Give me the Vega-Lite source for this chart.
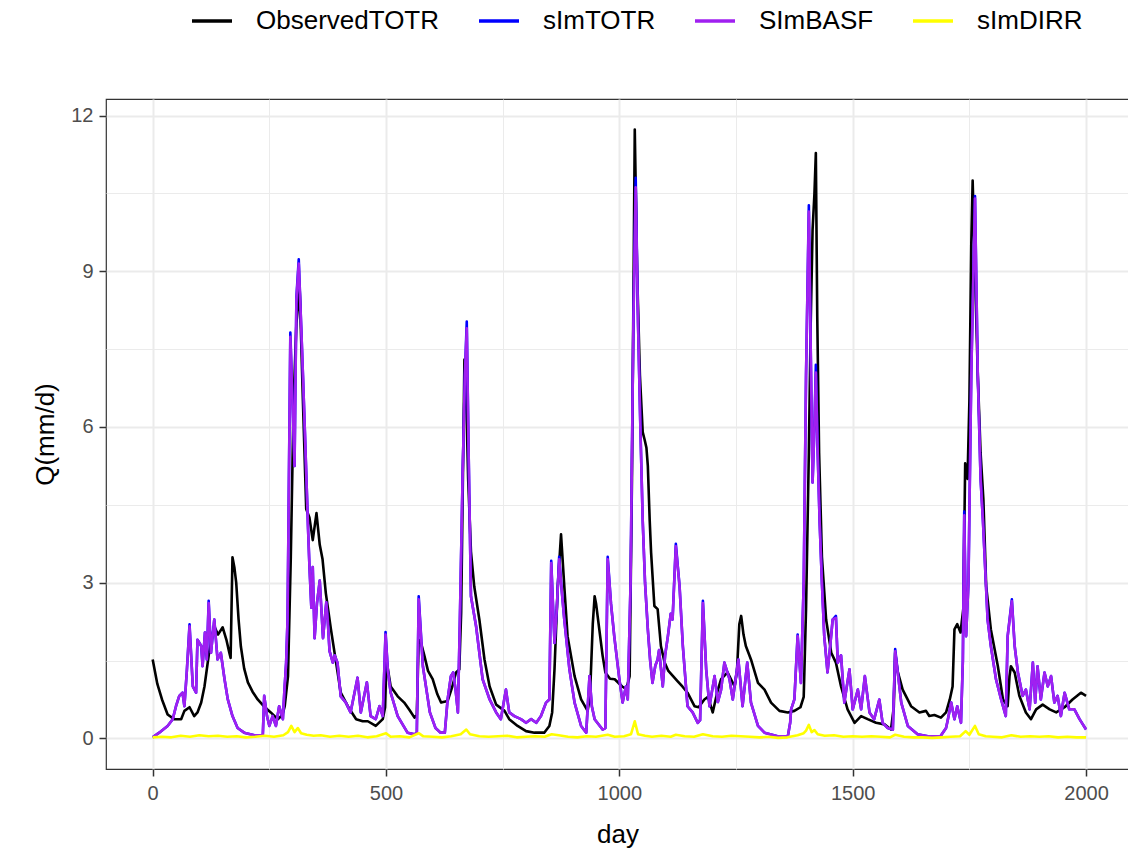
{
  "$schema": "https://vega.github.io/schema/vega-lite/v6.json",
  "width": 1023,
  "height": 670,
  "autosize": {"type": "none"},
  "padding": {"left": 106, "top": 99, "right": 0, "bottom": 88},
  "background": "white",
  "config": {
    "font": "Liberation Sans",
    "view": {"stroke": "#333333", "strokeWidth": 1.2}
  },
  "datasets": {
    "obs": [
      {"d":0,"q":1.52},{"d":10,"q":1.05},{"d":20,"q":0.75},{"d":32,"q":0.46},{"d":46,"q":0.37},{"d":61,"q":0.37},{"d":68,"q":0.53},{"d":79,"q":0.6},{"d":89,"q":0.43},{"d":96,"q":0.5},{"d":104,"q":0.69},{"d":111,"q":1.0},{"d":121,"q":1.66},{"d":132,"q":2.16},{"d":140,"q":2.0},{"d":150,"q":2.14},{"d":158,"q":1.9},{"d":164,"q":1.66},{"d":167,"q":1.55},{"d":171,"q":3.49},{"d":175,"q":3.3},{"d":179,"q":3.0},{"d":184,"q":2.3},{"d":189,"q":1.77},{"d":196,"q":1.35},{"d":204,"q":1.08},{"d":214,"q":0.9},{"d":225,"q":0.75},{"d":238,"q":0.62},{"d":253,"q":0.5},{"d":268,"q":0.37},{"d":278,"q":0.45},{"d":283,"q":0.62},{"d":290,"q":1.2},{"d":296,"q":3.5},{"d":302,"q":6.5},{"d":308,"q":8.0},{"d":315,"q":8.65},{"d":322,"q":6.48},{"d":329,"q":4.42},{"d":336,"q":4.25},{"d":343,"q":3.82},{"d":351,"q":4.34},{"d":358,"q":3.73},{"d":364,"q":3.45},{"d":371,"q":2.8},{"d":382,"q":2.1},{"d":393,"q":1.46},{"d":403,"q":0.88},{"d":418,"q":0.62},{"d":436,"q":0.37},{"d":450,"q":0.33},{"d":461,"q":0.33},{"d":478,"q":0.24},{"d":493,"q":0.37},{"d":498,"q":0.6},{"d":501,"q":1.5},{"d":510,"q":1.0},{"d":525,"q":0.81},{"d":539,"q":0.69},{"d":550,"q":0.55},{"d":561,"q":0.4},{"d":566,"q":0.45},{"d":570,"q":1.9},{"d":575,"q":1.84},{"d":582,"q":1.6},{"d":590,"q":1.3},{"d":600,"q":1.14},{"d":610,"q":0.85},{"d":618,"q":0.69},{"d":632,"q":0.72},{"d":642,"q":1.0},{"d":650,"q":1.27},{"d":657,"q":1.33},{"d":661,"q":2.42},{"d":664,"q":4.5},{"d":668,"q":7.3},{"d":672,"q":6.5},{"d":676,"q":5.0},{"d":682,"q":3.6},{"d":689,"q":2.93},{"d":700,"q":2.29},{"d":711,"q":1.52},{"d":722,"q":1.0},{"d":736,"q":0.65},{"d":754,"q":0.53},{"d":764,"q":0.37},{"d":782,"q":0.24},{"d":800,"q":0.14},{"d":818,"q":0.11},{"d":839,"q":0.11},{"d":850,"q":0.24},{"d":856,"q":0.5},{"d":861,"q":1.33},{"d":868,"q":2.93},{"d":875,"q":3.93},{"d":882,"q":2.93},{"d":889,"q":1.97},{"d":904,"q":1.2},{"d":918,"q":0.75},{"d":932,"q":0.53},{"d":937,"q":0.8},{"d":943,"q":2.2},{"d":947,"q":2.74},{"d":950,"q":2.6},{"d":957,"q":2.1},{"d":964,"q":1.6},{"d":970,"q":1.27},{"d":980,"q":1.15},{"d":990,"q":1.14},{"d":1006,"q":1.0},{"d":1015,"q":0.95},{"d":1022,"q":1.2},{"d":1027,"q":5.0},{"d":1033,"q":11.73},{"d":1038,"q":9.0},{"d":1044,"q":7.0},{"d":1050,"q":5.9},{"d":1054,"q":5.76},{"d":1058,"q":5.6},{"d":1061,"q":5.25},{"d":1065,"q":4.2},{"d":1068,"q":3.58},{"d":1075,"q":2.55},{"d":1082,"q":2.49},{"d":1089,"q":1.78},{"d":1097,"q":1.46},{"d":1105,"q":1.3},{"d":1115,"q":1.2},{"d":1125,"q":1.1},{"d":1135,"q":1.0},{"d":1146,"q":0.88},{"d":1161,"q":0.62},{"d":1170,"q":0.6},{"d":1182,"q":0.75},{"d":1190,"q":0.8},{"d":1200,"q":0.5},{"d":1210,"q":0.9},{"d":1218,"q":1.14},{"d":1232,"q":1.27},{"d":1247,"q":1.0},{"d":1252,"q":1.3},{"d":1257,"q":2.2},{"d":1261,"q":2.36},{"d":1266,"q":2.0},{"d":1271,"q":1.78},{"d":1282,"q":1.52},{"d":1297,"q":1.07},{"d":1311,"q":0.94},{"d":1325,"q":0.69},{"d":1343,"q":0.53},{"d":1361,"q":0.5},{"d":1375,"q":0.53},{"d":1388,"q":0.6},{"d":1395,"q":0.8},{"d":1400,"q":2.5},{"d":1406,"q":5.5},{"d":1410,"q":8.0},{"d":1414,"q":9.8},{"d":1418,"q":10.5},{"d":1421,"q":11.28},{"d":1424,"q":8.14},{"d":1428,"q":5.5},{"d":1434,"q":3.5},{"d":1443,"q":2.29},{"d":1454,"q":1.65},{"d":1464,"q":1.46},{"d":1475,"q":1.0},{"d":1489,"q":0.56},{"d":1504,"q":0.3},{"d":1518,"q":0.43},{"d":1532,"q":0.37},{"d":1550,"q":0.3},{"d":1568,"q":0.27},{"d":1582,"q":0.17},{"d":1588,"q":0.6},{"d":1591,"q":1.65},{"d":1596,"q":1.3},{"d":1607,"q":0.94},{"d":1625,"q":0.62},{"d":1643,"q":0.5},{"d":1657,"q":0.53},{"d":1664,"q":0.43},{"d":1675,"q":0.45},{"d":1689,"q":0.4},{"d":1700,"q":0.5},{"d":1708,"q":0.75},{"d":1714,"q":1.0},{"d":1718,"q":2.1},{"d":1724,"q":2.2},{"d":1731,"q":2.04},{"d":1737,"q":2.5},{"d":1741,"q":5.3},{"d":1746,"q":5.0},{"d":1750,"q":6.5},{"d":1754,"q":9.5},{"d":1757,"q":10.75},{"d":1762,"q":9.0},{"d":1768,"q":7.0},{"d":1774,"q":5.5},{"d":1780,"q":4.6},{"d":1786,"q":2.93},{"d":1796,"q":2.1},{"d":1811,"q":1.39},{"d":1822,"q":0.75},{"d":1832,"q":0.62},{"d":1836,"q":1.2},{"d":1839,"q":1.39},{"d":1847,"q":1.27},{"d":1857,"q":0.82},{"d":1871,"q":0.5},{"d":1882,"q":0.37},{"d":1893,"q":0.56},{"d":1907,"q":0.65},{"d":1922,"q":0.56},{"d":1936,"q":0.5},{"d":1954,"q":0.6},{"d":1971,"q":0.75},{"d":1989,"q":0.88},{"d":2000,"q":0.82}
    ],
    "tot": [
      {"d":0,"q":0.02},{"d":14,"q":0.11},{"d":32,"q":0.24},{"d":43,"q":0.37},{"d":50,"q":0.62},{"d":57,"q":0.82},{"d":64,"q":0.88},{"d":68,"q":0.62},{"d":73,"q":1.27},{"d":79,"q":2.2},{"d":86,"q":1.0},{"d":93,"q":0.88},{"d":96,"q":1.9},{"d":104,"q":1.78},{"d":107,"q":1.39},{"d":112,"q":2.04},{"d":116,"q":1.52},{"d":120,"q":2.65},{"d":125,"q":1.65},{"d":132,"q":2.29},{"d":139,"q":1.52},{"d":146,"q":1.65},{"d":154,"q":1.14},{"d":161,"q":0.75},{"d":171,"q":0.43},{"d":182,"q":0.2},{"d":196,"q":0.11},{"d":218,"q":0.06},{"d":236,"q":0.06},{"d":239,"q":0.82},{"d":245,"q":0.43},{"d":250,"q":0.24},{"d":257,"q":0.43},{"d":264,"q":0.24},{"d":271,"q":0.62},{"d":279,"q":0.37},{"d":282,"q":0.88},{"d":286,"q":1.46},{"d":289,"q":2.29},{"d":295,"q":7.82},{"d":304,"q":5.25},{"d":308,"q":8.5},{"d":313,"q":9.23},{"d":318,"q":8.0},{"d":322,"q":7.0},{"d":326,"q":5.95},{"d":333,"q":4.03},{"d":336,"q":3.3},{"d":340,"q":2.52},{"d":343,"q":3.3},{"d":347,"q":1.93},{"d":352,"q":2.6},{"d":358,"q":3.04},{"d":365,"q":1.93},{"d":372,"q":2.62},{"d":375,"q":2.29},{"d":379,"q":1.68},{"d":386,"q":1.46},{"d":390,"q":1.6},{"d":396,"q":1.46},{"d":403,"q":0.81},{"d":414,"q":0.69},{"d":424,"q":0.5},{"d":439,"q":1.17},{"d":446,"q":0.5},{"d":459,"q":1.08},{"d":467,"q":0.43},{"d":478,"q":0.37},{"d":486,"q":0.62},{"d":493,"q":0.43},{"d":499,"q":2.05},{"d":504,"q":1.3},{"d":510,"q":0.88},{"d":525,"q":0.43},{"d":546,"q":0.11},{"d":561,"q":0.08},{"d":566,"q":0.1},{"d":570,"q":2.74},{"d":579,"q":1.39},{"d":594,"q":0.5},{"d":606,"q":0.2},{"d":617,"q":0.11},{"d":626,"q":0.11},{"d":632,"q":0.75},{"d":639,"q":1.2},{"d":644,"q":1.27},{"d":649,"q":0.94},{"d":654,"q":0.5},{"d":658,"q":2.16},{"d":664,"q":5.0},{"d":669,"q":7.0},{"d":673,"q":8.03},{"d":677,"q":5.5},{"d":682,"q":2.74},{"d":693,"q":2.16},{"d":707,"q":1.14},{"d":722,"q":0.75},{"d":736,"q":0.5},{"d":746,"q":0.37},{"d":757,"q":0.94},{"d":764,"q":0.5},{"d":775,"q":0.43},{"d":789,"q":0.37},{"d":800,"q":0.3},{"d":811,"q":0.37},{"d":822,"q":0.3},{"d":832,"q":0.43},{"d":843,"q":0.69},{"d":850,"q":0.75},{"d":854,"q":3.42},{"d":861,"q":1.84},{"d":866,"q":2.5},{"d":871,"q":3.5},{"d":876,"q":2.9},{"d":882,"q":2.29},{"d":893,"q":1.33},{"d":904,"q":0.69},{"d":918,"q":0.24},{"d":929,"q":0.11},{"d":936,"q":1.2},{"d":941,"q":0.62},{"d":947,"q":0.37},{"d":964,"q":0.17},{"d":970,"q":0.2},{"d":975,"q":3.5},{"d":982,"q":2.6},{"d":989,"q":1.97},{"d":1000,"q":1.14},{"d":1007,"q":0.69},{"d":1014,"q":1.0},{"d":1018,"q":0.75},{"d":1024,"q":3.0},{"d":1030,"q":8.0},{"d":1035,"q":10.8},{"d":1040,"q":8.0},{"d":1045,"q":6.0},{"d":1050,"q":4.2},{"d":1055,"q":3.0},{"d":1061,"q":2.1},{"d":1066,"q":1.5},{"d":1071,"q":1.07},{"d":1077,"q":1.4},{"d":1082,"q":1.52},{"d":1085,"q":1.7},{"d":1093,"q":1.0},{"d":1098,"q":1.6},{"d":1104,"q":1.97},{"d":1110,"q":2.4},{"d":1114,"q":2.29},{"d":1121,"q":3.75},{"d":1129,"q":2.93},{"d":1136,"q":1.78},{"d":1146,"q":0.62},{"d":1157,"q":0.5},{"d":1168,"q":0.3},{"d":1173,"q":0.35},{"d":1179,"q":2.65},{"d":1186,"q":1.33},{"d":1193,"q":0.62},{"d":1204,"q":1.2},{"d":1211,"q":0.7},{"d":1218,"q":0.94},{"d":1225,"q":1.46},{"d":1236,"q":1.14},{"d":1243,"q":0.75},{"d":1255,"q":1.52},{"d":1264,"q":0.62},{"d":1274,"q":1.46},{"d":1282,"q":0.69},{"d":1297,"q":0.24},{"d":1311,"q":0.11},{"d":1339,"q":0.04},{"d":1361,"q":0.04},{"d":1366,"q":0.3},{"d":1368,"q":0.56},{"d":1375,"q":0.75},{"d":1382,"q":2.0},{"d":1389,"q":1.07},{"d":1395,"q":3.0},{"d":1400,"q":7.0},{"d":1406,"q":10.27},{"d":1410,"q":7.5},{"d":1414,"q":4.93},{"d":1418,"q":6.0},{"d":1421,"q":7.2},{"d":1425,"q":5.5},{"d":1429,"q":4.2},{"d":1434,"q":3.0},{"d":1439,"q":1.97},{"d":1446,"q":1.27},{"d":1452,"q":1.8},{"d":1457,"q":2.29},{"d":1464,"q":2.36},{"d":1468,"q":1.46},{"d":1475,"q":1.6},{"d":1482,"q":0.69},{"d":1493,"q":1.33},{"d":1500,"q":0.56},{"d":1511,"q":0.94},{"d":1518,"q":0.56},{"d":1526,"q":1.2},{"d":1536,"q":0.5},{"d":1546,"q":0.37},{"d":1557,"q":0.75},{"d":1564,"q":0.3},{"d":1575,"q":0.2},{"d":1586,"q":0.17},{"d":1591,"q":1.72},{"d":1604,"q":0.69},{"d":1618,"q":0.24},{"d":1639,"q":0.08},{"d":1661,"q":0.04},{"d":1688,"q":0.04},{"d":1700,"q":0.2},{"d":1704,"q":0.37},{"d":1711,"q":0.69},{"d":1718,"q":0.37},{"d":1724,"q":0.62},{"d":1732,"q":0.3},{"d":1736,"q":1.5},{"d":1739,"q":4.37},{"d":1743,"q":1.97},{"d":1748,"q":3.0},{"d":1754,"q":7.0},{"d":1762,"q":10.45},{"d":1768,"q":7.0},{"d":1774,"q":5.0},{"d":1779,"q":4.2},{"d":1789,"q":2.29},{"d":1796,"q":1.78},{"d":1807,"q":1.14},{"d":1818,"q":0.75},{"d":1828,"q":0.43},{"d":1832,"q":1.97},{"d":1841,"q":2.68},{"d":1847,"q":1.78},{"d":1854,"q":1.27},{"d":1864,"q":0.82},{"d":1871,"q":0.94},{"d":1879,"q":0.56},{"d":1886,"q":1.46},{"d":1891,"q":0.69},{"d":1896,"q":1.39},{"d":1903,"q":0.75},{"d":1911,"q":1.27},{"d":1918,"q":1.0},{"d":1925,"q":1.2},{"d":1932,"q":0.69},{"d":1939,"q":0.82},{"d":1946,"q":0.43},{"d":1954,"q":0.88},{"d":1964,"q":0.56},{"d":1975,"q":0.56},{"d":1986,"q":0.37},{"d":2000,"q":0.17}
    ],
    "basf": [
      {"d":0,"q":0.02},{"d":14,"q":0.11},{"d":32,"q":0.24},{"d":43,"q":0.37},{"d":50,"q":0.62},{"d":57,"q":0.82},{"d":64,"q":0.88},{"d":68,"q":0.62},{"d":73,"q":1.27},{"d":79,"q":2.16},{"d":86,"q":1.0},{"d":93,"q":0.88},{"d":96,"q":1.9},{"d":104,"q":1.78},{"d":107,"q":1.39},{"d":112,"q":2.04},{"d":116,"q":1.52},{"d":120,"q":2.61},{"d":125,"q":1.65},{"d":132,"q":2.29},{"d":139,"q":1.52},{"d":146,"q":1.65},{"d":154,"q":1.14},{"d":161,"q":0.75},{"d":171,"q":0.43},{"d":182,"q":0.2},{"d":196,"q":0.11},{"d":218,"q":0.06},{"d":236,"q":0.06},{"d":239,"q":0.82},{"d":245,"q":0.43},{"d":250,"q":0.24},{"d":257,"q":0.43},{"d":264,"q":0.24},{"d":271,"q":0.62},{"d":279,"q":0.37},{"d":282,"q":0.88},{"d":286,"q":1.46},{"d":289,"q":2.29},{"d":295,"q":7.74},{"d":304,"q":5.25},{"d":308,"q":8.46},{"d":313,"q":9.15},{"d":318,"q":8.0},{"d":322,"q":7.0},{"d":326,"q":5.95},{"d":333,"q":4.03},{"d":336,"q":3.3},{"d":340,"q":2.52},{"d":343,"q":3.3},{"d":347,"q":1.93},{"d":352,"q":2.6},{"d":358,"q":3.04},{"d":365,"q":1.93},{"d":372,"q":2.62},{"d":375,"q":2.29},{"d":379,"q":1.68},{"d":386,"q":1.46},{"d":390,"q":1.6},{"d":396,"q":1.46},{"d":403,"q":0.81},{"d":414,"q":0.69},{"d":424,"q":0.5},{"d":439,"q":1.17},{"d":446,"q":0.5},{"d":459,"q":1.08},{"d":467,"q":0.43},{"d":478,"q":0.37},{"d":486,"q":0.62},{"d":493,"q":0.43},{"d":499,"q":2.0},{"d":504,"q":1.3},{"d":510,"q":0.88},{"d":525,"q":0.43},{"d":546,"q":0.11},{"d":561,"q":0.08},{"d":566,"q":0.1},{"d":570,"q":2.68},{"d":579,"q":1.39},{"d":594,"q":0.5},{"d":606,"q":0.2},{"d":617,"q":0.11},{"d":626,"q":0.11},{"d":632,"q":0.75},{"d":639,"q":1.2},{"d":644,"q":1.27},{"d":649,"q":0.94},{"d":654,"q":0.5},{"d":658,"q":2.16},{"d":664,"q":5.0},{"d":669,"q":7.0},{"d":673,"q":7.9},{"d":677,"q":5.5},{"d":682,"q":2.74},{"d":693,"q":2.16},{"d":707,"q":1.14},{"d":722,"q":0.75},{"d":736,"q":0.5},{"d":746,"q":0.37},{"d":757,"q":0.94},{"d":764,"q":0.5},{"d":775,"q":0.43},{"d":789,"q":0.37},{"d":800,"q":0.3},{"d":811,"q":0.37},{"d":822,"q":0.3},{"d":832,"q":0.43},{"d":843,"q":0.69},{"d":850,"q":0.75},{"d":854,"q":3.38},{"d":861,"q":1.84},{"d":866,"q":2.5},{"d":871,"q":3.45},{"d":876,"q":2.9},{"d":882,"q":2.29},{"d":893,"q":1.33},{"d":904,"q":0.69},{"d":918,"q":0.24},{"d":929,"q":0.11},{"d":936,"q":1.2},{"d":941,"q":0.62},{"d":947,"q":0.37},{"d":964,"q":0.17},{"d":970,"q":0.2},{"d":975,"q":3.45},{"d":982,"q":2.6},{"d":989,"q":1.97},{"d":1000,"q":1.14},{"d":1007,"q":0.69},{"d":1014,"q":1.0},{"d":1018,"q":0.75},{"d":1024,"q":3.0},{"d":1030,"q":8.0},{"d":1035,"q":10.62},{"d":1040,"q":8.0},{"d":1045,"q":6.0},{"d":1050,"q":4.2},{"d":1055,"q":3.0},{"d":1061,"q":2.1},{"d":1066,"q":1.5},{"d":1071,"q":1.07},{"d":1077,"q":1.4},{"d":1082,"q":1.52},{"d":1085,"q":1.7},{"d":1093,"q":1.0},{"d":1098,"q":1.6},{"d":1104,"q":1.97},{"d":1110,"q":2.4},{"d":1114,"q":2.29},{"d":1121,"q":3.7},{"d":1129,"q":2.93},{"d":1136,"q":1.78},{"d":1146,"q":0.62},{"d":1157,"q":0.5},{"d":1168,"q":0.3},{"d":1173,"q":0.35},{"d":1179,"q":2.61},{"d":1186,"q":1.33},{"d":1193,"q":0.62},{"d":1204,"q":1.2},{"d":1211,"q":0.7},{"d":1218,"q":0.94},{"d":1225,"q":1.46},{"d":1236,"q":1.14},{"d":1243,"q":0.75},{"d":1255,"q":1.52},{"d":1264,"q":0.62},{"d":1274,"q":1.46},{"d":1282,"q":0.69},{"d":1297,"q":0.24},{"d":1311,"q":0.11},{"d":1339,"q":0.04},{"d":1361,"q":0.04},{"d":1366,"q":0.3},{"d":1368,"q":0.56},{"d":1375,"q":0.75},{"d":1382,"q":1.97},{"d":1389,"q":1.07},{"d":1395,"q":3.0},{"d":1400,"q":7.0},{"d":1406,"q":10.15},{"d":1410,"q":7.5},{"d":1414,"q":4.93},{"d":1418,"q":6.0},{"d":1421,"q":7.05},{"d":1425,"q":5.5},{"d":1429,"q":4.2},{"d":1434,"q":3.0},{"d":1439,"q":1.97},{"d":1446,"q":1.27},{"d":1452,"q":1.8},{"d":1457,"q":2.29},{"d":1464,"q":2.32},{"d":1468,"q":1.46},{"d":1475,"q":1.6},{"d":1482,"q":0.69},{"d":1493,"q":1.33},{"d":1500,"q":0.56},{"d":1511,"q":0.94},{"d":1518,"q":0.56},{"d":1526,"q":1.2},{"d":1536,"q":0.5},{"d":1546,"q":0.37},{"d":1557,"q":0.75},{"d":1564,"q":0.3},{"d":1575,"q":0.2},{"d":1586,"q":0.17},{"d":1591,"q":1.68},{"d":1604,"q":0.69},{"d":1618,"q":0.24},{"d":1639,"q":0.08},{"d":1661,"q":0.04},{"d":1688,"q":0.04},{"d":1700,"q":0.2},{"d":1704,"q":0.37},{"d":1711,"q":0.69},{"d":1718,"q":0.37},{"d":1724,"q":0.62},{"d":1732,"q":0.3},{"d":1736,"q":1.5},{"d":1739,"q":4.3},{"d":1743,"q":1.97},{"d":1748,"q":3.0},{"d":1754,"q":7.0},{"d":1762,"q":10.4},{"d":1768,"q":7.0},{"d":1774,"q":5.0},{"d":1779,"q":4.2},{"d":1789,"q":2.29},{"d":1796,"q":1.78},{"d":1807,"q":1.14},{"d":1818,"q":0.75},{"d":1828,"q":0.43},{"d":1832,"q":1.97},{"d":1841,"q":2.64},{"d":1847,"q":1.78},{"d":1854,"q":1.27},{"d":1864,"q":0.82},{"d":1871,"q":0.94},{"d":1879,"q":0.56},{"d":1886,"q":1.46},{"d":1891,"q":0.69},{"d":1896,"q":1.39},{"d":1903,"q":0.75},{"d":1911,"q":1.27},{"d":1918,"q":1.0},{"d":1925,"q":1.2},{"d":1932,"q":0.69},{"d":1939,"q":0.82},{"d":1946,"q":0.43},{"d":1954,"q":0.88},{"d":1964,"q":0.56},{"d":1975,"q":0.56},{"d":1986,"q":0.37},{"d":2000,"q":0.17}
    ],
    "dirr": [
      {"d":0,"q":0.02},{"d":20,"q":0.03},{"d":40,"q":0.02},{"d":60,"q":0.05},{"d":80,"q":0.03},{"d":100,"q":0.06},{"d":120,"q":0.04},{"d":140,"q":0.05},{"d":160,"q":0.03},{"d":180,"q":0.04},{"d":200,"q":0.02},{"d":220,"q":0.03},{"d":240,"q":0.05},{"d":260,"q":0.03},{"d":280,"q":0.06},{"d":290,"q":0.12},{"d":297,"q":0.24},{"d":304,"q":0.12},{"d":311,"q":0.2},{"d":318,"q":0.1},{"d":330,"q":0.07},{"d":345,"q":0.05},{"d":360,"q":0.06},{"d":380,"q":0.03},{"d":400,"q":0.05},{"d":420,"q":0.03},{"d":440,"q":0.05},{"d":460,"q":0.02},{"d":480,"q":0.04},{"d":500,"q":0.1},{"d":510,"q":0.03},{"d":530,"q":0.04},{"d":550,"q":0.02},{"d":570,"q":0.1},{"d":580,"q":0.04},{"d":600,"q":0.03},{"d":620,"q":0.02},{"d":640,"q":0.04},{"d":660,"q":0.08},{"d":672,"q":0.17},{"d":680,"q":0.08},{"d":700,"q":0.04},{"d":720,"q":0.03},{"d":740,"q":0.04},{"d":760,"q":0.05},{"d":780,"q":0.02},{"d":800,"q":0.03},{"d":820,"q":0.04},{"d":840,"q":0.03},{"d":855,"q":0.08},{"d":870,"q":0.06},{"d":890,"q":0.03},{"d":910,"q":0.02},{"d":930,"q":0.04},{"d":950,"q":0.03},{"d":975,"q":0.07},{"d":990,"q":0.03},{"d":1010,"q":0.04},{"d":1025,"q":0.08},{"d":1033,"q":0.33},{"d":1040,"q":0.08},{"d":1055,"q":0.05},{"d":1070,"q":0.03},{"d":1090,"q":0.05},{"d":1110,"q":0.03},{"d":1121,"q":0.07},{"d":1140,"q":0.04},{"d":1160,"q":0.03},{"d":1179,"q":0.08},{"d":1200,"q":0.04},{"d":1220,"q":0.03},{"d":1240,"q":0.05},{"d":1260,"q":0.04},{"d":1280,"q":0.03},{"d":1300,"q":0.02},{"d":1320,"q":0.03},{"d":1340,"q":0.01},{"d":1360,"q":0.02},{"d":1382,"q":0.06},{"d":1395,"q":0.1},{"d":1400,"q":0.15},{"d":1406,"q":0.26},{"d":1412,"q":0.12},{"d":1418,"q":0.16},{"d":1425,"q":0.08},{"d":1440,"q":0.05},{"d":1460,"q":0.06},{"d":1480,"q":0.03},{"d":1500,"q":0.04},{"d":1520,"q":0.03},{"d":1540,"q":0.04},{"d":1560,"q":0.03},{"d":1580,"q":0.02},{"d":1591,"q":0.07},{"d":1610,"q":0.03},{"d":1630,"q":0.02},{"d":1650,"q":0.02},{"d":1670,"q":0.01},{"d":1690,"q":0.02},{"d":1710,"q":0.03},{"d":1730,"q":0.04},{"d":1742,"q":0.14},{"d":1750,"q":0.07},{"d":1762,"q":0.24},{"d":1770,"q":0.08},{"d":1785,"q":0.04},{"d":1800,"q":0.03},{"d":1820,"q":0.02},{"d":1840,"q":0.06},{"d":1860,"q":0.03},{"d":1880,"q":0.04},{"d":1900,"q":0.03},{"d":1920,"q":0.04},{"d":1940,"q":0.02},{"d":1960,"q":0.03},{"d":1980,"q":0.02},{"d":2000,"q":0.02}
    ]
  },
  "encoding": {
    "x": {
      "field": "d",
      "type": "quantitative",
      "scale": {"domain": [-100, 2092], "nice": false, "zero": false},
      "axis": {
        "title": "day",
        "values": [0, 250, 500, 750, 1000, 1250, 1500, 1750, 2000],
        "format": "d",
        "labelExpr": "datum.value % 500 === 0 ? datum.label : ''",
        "domain": false,
        "grid": true,
        "gridColor": "#EBEBEB",
        "gridWidth": {"condition": {"test": "datum.value % 500 !== 0", "value": 1}, "value": 2},
        "tickOpacity": {"condition": {"test": "datum.value % 500 !== 0", "value": 0}, "value": 1},
        "tickColor": "#333333",
        "tickWidth": 1.5,
        "tickSize": 7,
        "labelFontSize": 20,
        "labelColor": "#4D4D4D",
        "labelPadding": 7,
        "titleFontSize": 26,
        "titleFontWeight": "normal",
        "titleColor": "#000000",
        "titlePadding": 18
      }
    },
    "y": {
      "field": "q",
      "type": "quantitative",
      "scale": {"domain": [-0.59, 12.32], "nice": false, "zero": false},
      "axis": {
        "title": "Q(mm/d)",
        "values": [0, 1.5, 3, 4.5, 6, 7.5, 9, 10.5, 12],
        "labelExpr": "datum.value % 3 === 0 ? datum.label : ''",
        "domain": false,
        "grid": true,
        "gridColor": "#EBEBEB",
        "gridWidth": {"condition": {"test": "datum.value % 3 !== 0", "value": 1}, "value": 2},
        "tickOpacity": {"condition": {"test": "datum.value % 3 !== 0", "value": 0}, "value": 1},
        "tickColor": "#333333",
        "tickWidth": 1.5,
        "tickSize": 7,
        "labelFontSize": 20,
        "labelColor": "#4D4D4D",
        "labelPadding": 6,
        "titleFontSize": 26,
        "titleFontWeight": "normal",
        "titleColor": "#000000",
        "titlePadding": 12
      }
    }
  },
  "layer": [
    {
      "data": {"name": "obs"},
      "mark": {"type": "line", "strokeWidth": 2.6, "strokeJoin": "round"},
      "encoding": {
        "color": {
          "datum": "ObservedTOTR",
          "scale": {
            "domain": ["ObservedTOTR", "sImTOTR", "SImBASF", "sImDIRR"],
            "range": ["#000000", "#0000FF", "#A020F0", "#FFFF00"]
          },
          "legend": {
            "orient": "none",
            "legendX": 84,
            "legendY": -100,
            "direction": "horizontal",
            "title": null,
            "symbolType": "stroke",
            "symbolSize": 1600,
            "symbolStrokeWidth": 3.5,
            "labelFontSize": 26,
            "labelLimit": 0,
            "labelColor": "#000000",
            "labelOffset": 22,
            "columnPadding": 32
          }
        }
      }
    },
    {
      "data": {"name": "tot"},
      "mark": {"type": "line", "strokeWidth": 2.6, "strokeJoin": "round"},
      "encoding": {"color": {"datum": "sImTOTR"}}
    },
    {
      "data": {"name": "basf"},
      "mark": {"type": "line", "strokeWidth": 2.6, "strokeJoin": "round"},
      "encoding": {"color": {"datum": "SImBASF"}}
    },
    {
      "data": {"name": "dirr"},
      "mark": {"type": "line", "strokeWidth": 2.6, "strokeJoin": "round"},
      "encoding": {"color": {"datum": "sImDIRR"}}
    }
  ]
}
